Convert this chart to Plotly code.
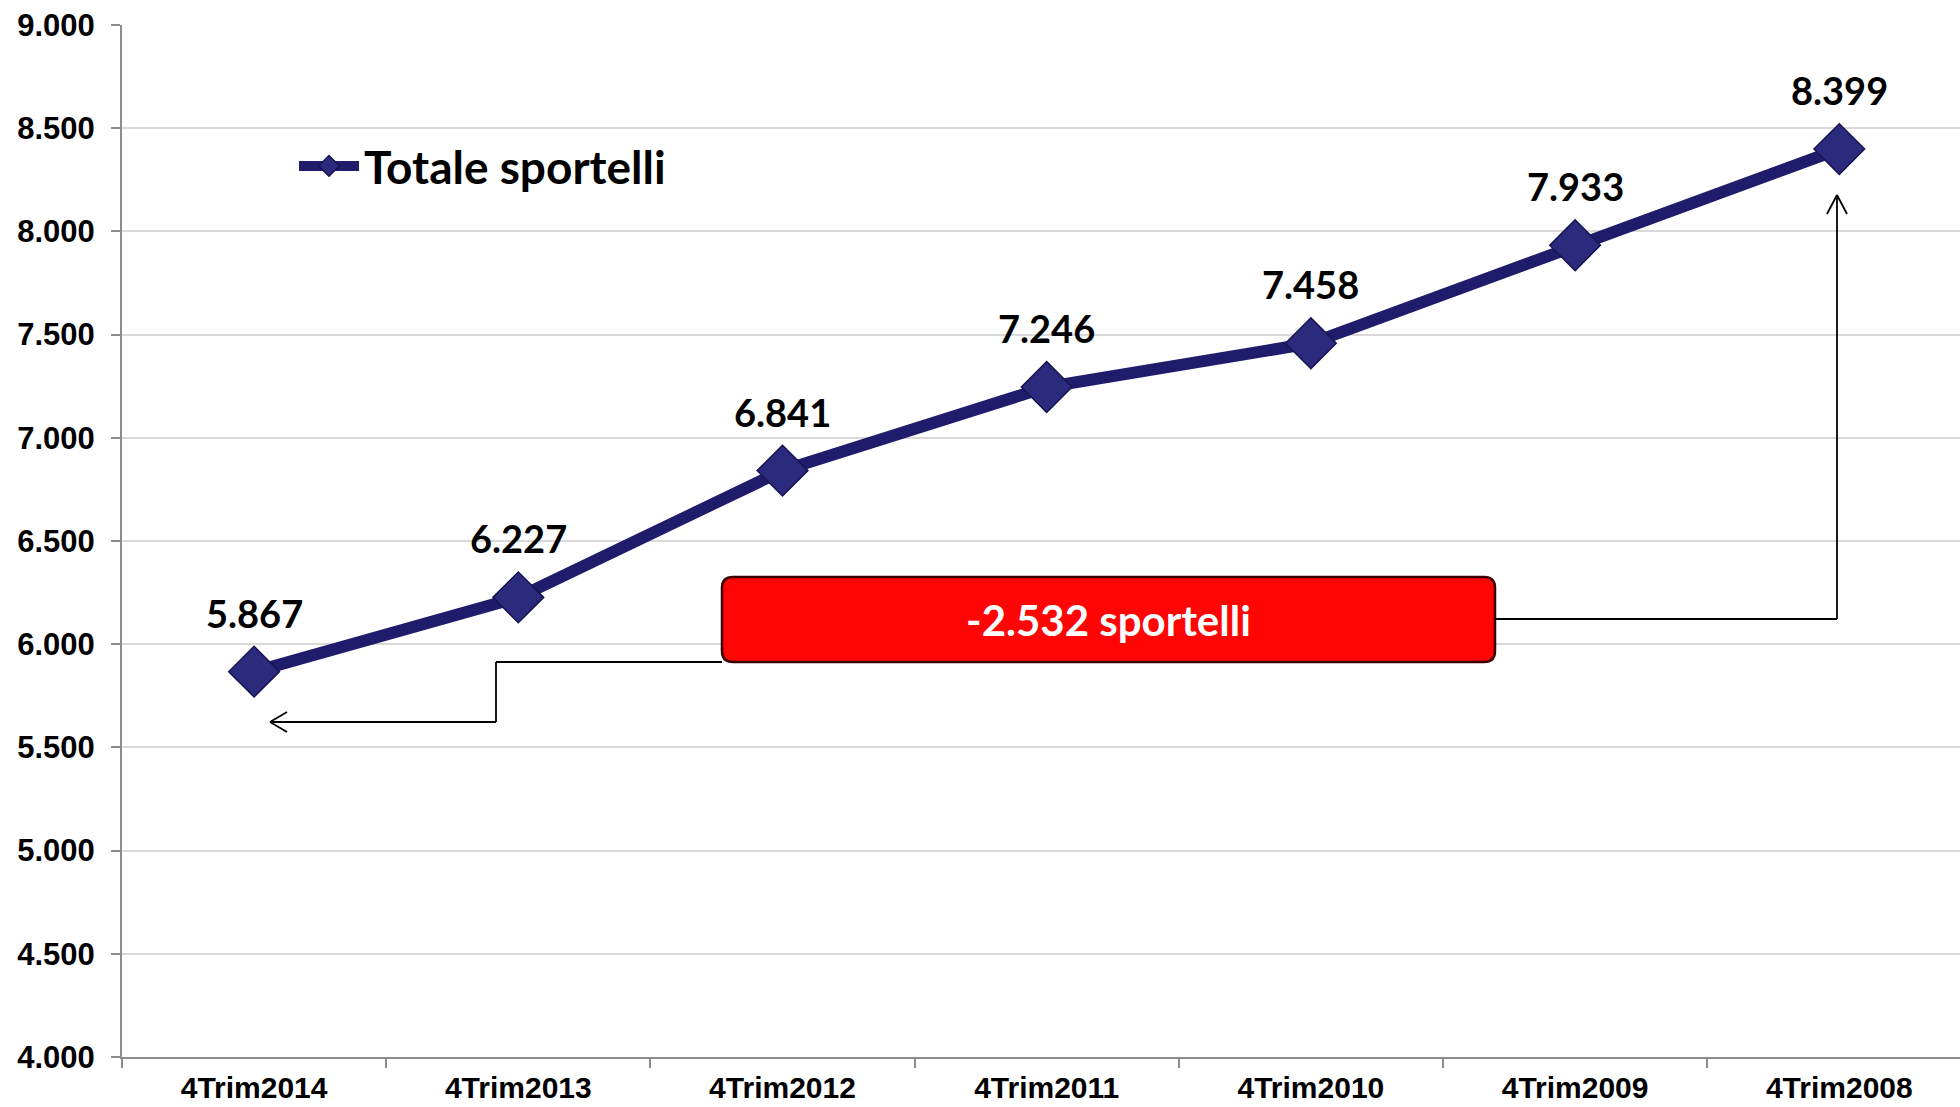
import plotly.graph_objects as go

# ---- data ----
categories = ["4Trim2014", "4Trim2013", "4Trim2012", "4Trim2011", "4Trim2010", "4Trim2009", "4Trim2008"]
totale_sportelli = [5867, 6227, 6841, 7246, 7458, 7933, 8399]
series_name = "Totale sportelli"
y_tick_values = [4000, 4500, 5000, 5500, 6000, 6500, 7000, 7500, 8000, 8500, 9000]

def fmt_it(v):
    return f"{v:,}".replace(",", ".")

W, H = 1960, 1107
ML, MR, MT, MB = 122, 0, 25, 50
CAT_PX = 264.2
X_RANGE = [-0.5, -0.5 + (W - ML - MR) / CAT_PX]
Y_RANGE = [4000, 9000]
PLOT_H = H - MT - MB
PLOT_W = W - ML - MR

def px_x(px):
    return X_RANGE[0] + (px - ML) / CAT_PX

def px_y(py):
    return Y_RANGE[1] - (py - MT) * (Y_RANGE[1] - Y_RANGE[0]) / PLOT_H

NAVY = "#1F1C6C"
LABEL_FONT = "Lato, 'Open Sans', sans-serif"
AXIS_FONT = "'Liberation Sans', Arial, sans-serif"

fig = go.Figure()
fig.add_trace(go.Scatter(
    x=categories, y=totale_sportelli, name=series_name,
    mode="lines+markers",
    line=dict(color=NAVY, width=12),
    marker=dict(symbol="diamond", size=39, color="#2C2A7C", line=dict(color="#17154F", width=1.5)),
    showlegend=True,
))

annotations = []
for c, v in zip(categories, totale_sportelli):
    annotations.append(dict(
        x=c, y=v, xref="x", yref="y", text=fmt_it(v), showarrow=False,
        yshift=59, font=dict(family=LABEL_FONT, size=38, color="black", weight="bold"),
    ))

# red box with difference
diff = totale_sportelli[0] - totale_sportelli[-1]
bx0, bx1 = (722 - ML) / PLOT_W, (1495 - ML) / PLOT_W
by0, by1 = (H - MB - 662) / PLOT_H, (H - MB - 577) / PLOT_H
rx, ry = 11 / PLOT_W, 11 / PLOT_H
path = (f"M{bx0+rx},{by1} L{bx1-rx},{by1} Q{bx1},{by1} {bx1},{by1-ry} "
        f"L{bx1},{by0+ry} Q{bx1},{by0} {bx1-rx},{by0} L{bx0+rx},{by0} "
        f"Q{bx0},{by0} {bx0},{by0+ry} L{bx0},{by1-ry} Q{bx0},{by1} {bx0+rx},{by1} Z")
shapes = [dict(type="path", xref="paper", yref="paper", path=path,
               fillcolor="#FF0505", line=dict(color="#3A0000", width=2.5), layer="above")]
annotations.append(dict(
    x=(bx0 + bx1) / 2, y=(by0 + by1) / 2, xref="paper", yref="paper",
    text=f"{fmt_it(diff)} sportelli", showarrow=False,
    font=dict(family=LABEL_FONT, size=42, color="white", weight="bold"),
))

# connectors
def seg(x0, y0, x1, y1):
    return dict(type="line", xref="x", yref="y", x0=x0, y0=y0, x1=x1, y1=y1,
                line=dict(color="black", width=1.8), layer="above")

left_pts = [(722, 662), (496, 662), (496, 722), (270, 722)]
right_pts = [(1495, 619), (1837, 619), (1837, 195)]
for pts in (left_pts, right_pts):
    for (a, b), (c, d) in zip(pts[:-1], pts[1:]):
        shapes.append(seg(px_x(a), px_y(b), px_x(c), px_y(d)))

def head(tx, ty, dxs, dys):
    out = []
    for dx, dy in zip(dxs, dys):
        out.append(dict(type="line", xref="x", yref="y", xsizemode="pixel", ysizemode="pixel",
                        xanchor=px_x(tx), yanchor=px_y(ty), x0=0, y0=0, x1=dx, y1=dy,
                        line=dict(color="black", width=1.8), layer="above"))
    return out

shapes += head(270, 722, [17, 17], [10, -10])
shapes += head(1837, 195, [-10, 10], [-19, -19])

fig.update_layout(
    width=W, height=H,
    margin=dict(l=ML, r=MR, t=MT, b=MB, autoexpand=False),
    paper_bgcolor="white", plot_bgcolor="white",
    separators=",.",
    showlegend=True,
    legend=dict(x=(294 - ML) / PLOT_W, y=(H - MB - 166) / PLOT_H, xanchor="left", yanchor="middle",
                font=dict(family=LABEL_FONT, size=46, color="black", weight="bold"),
                bgcolor="rgba(0,0,0,0)", itemwidth=60),
    xaxis=dict(
        range=X_RANGE, type="category", tickson="boundaries", automargin=False,
        showgrid=False, showline=True, linecolor="#8C8C8C", linewidth=2,
        ticks="outside", ticklen=9, tickcolor="#8C8C8C", tickwidth=1.5,
        tickfont=dict(family=AXIS_FONT, size=30, color="black", weight="bold"),
        ticklabelstandoff=3,
    ),
    yaxis=dict(
        range=Y_RANGE, tickvals=y_tick_values, tickformat=",d", automargin=False,
        showgrid=True, gridcolor="#D9D9D9", gridwidth=1.5,
        showline=True, linecolor="#8C8C8C", linewidth=2,
        ticks="outside", ticklen=9, tickcolor="#8C8C8C", tickwidth=1.5,
        tickfont=dict(family=AXIS_FONT, size=31, color="black", weight="bold"),
        ticklabelstandoff=10, zeroline=False,
    ),
    shapes=shapes, annotations=annotations,
)

fig.write_html("out.html", config={"displayModeBar": False},
               post_script="document.body.style.margin='0';document.body.style.overflow='hidden';")
